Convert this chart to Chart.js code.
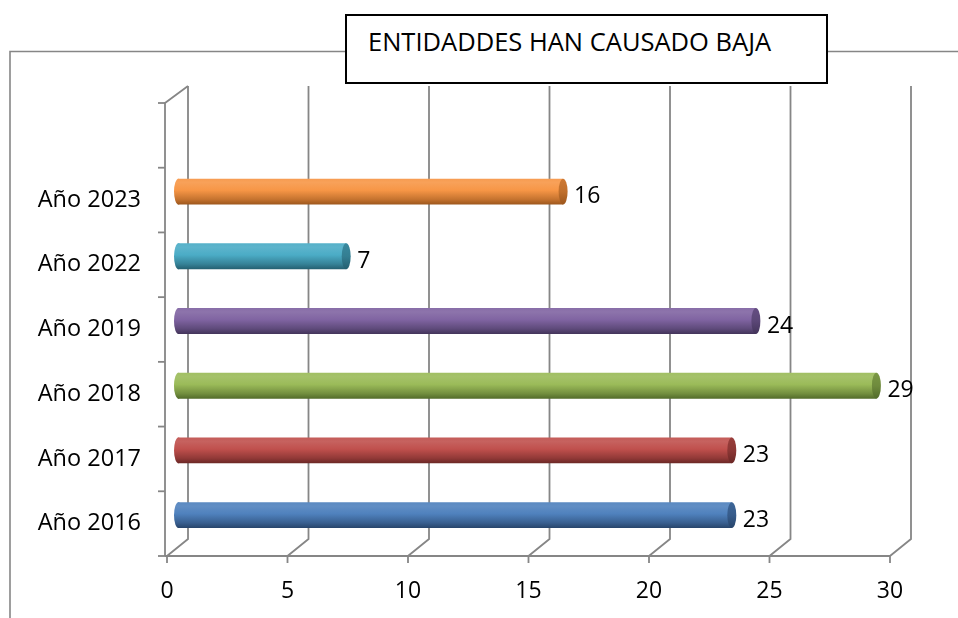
<!DOCTYPE html>
<html>
<head>
<meta charset="utf-8">
<script src="https://cdn.jsdelivr.net/npm/chart.js@4/dist/chart.umd.min.js"></script>
<style>
  html, body { margin: 0; padding: 0; background: #fff; }
  #wrap { position: relative; width: 958px; height: 618px; overflow: hidden; }
  #title {
    position: absolute; left: 345px; top: 14px; width: 483px; height: 70px;
    box-sizing: border-box; border: 2px solid #000; background: #fff;
    font-family: "Open Sans", sans-serif; font-size: 25.5px; color: #000;
    padding: 10px 0 0 21px; line-height: 30px; white-space: nowrap;
  }
</style>
</head>
<body>
<div id="wrap">
  <canvas id="c" width="958" height="618"></canvas>
  <div id="title">ENTIDADDES HAN CAUSADO BAJA</div>
</div>
<script>
// ---- data ----
const categories = ['Año 2016', 'Año 2017', 'Año 2018', 'Año 2019', 'Año 2022', 'Año 2023'];
const values = [23, 23, 29, 24, 7, 16];
const xTicks = [0, 5, 10, 15, 20, 25, 30];
const baseColors = ['#4F81BD', '#C0504D', '#9BBB59', '#8064A2', '#4BACC6', '#F79646'];
const darkColors = ['#27446a', '#6a2725', '#526b2a', '#43345a', '#245f70', '#9c561c'];

// ---- helpers ----
function hexToRgb(h) { const n = parseInt(h.slice(1), 16); return [(n >> 16) & 255, (n >> 8) & 255, n & 255]; }
function mix(a, b, t) {
  const A = hexToRgb(a), B = hexToRgb(b);
  return 'rgb(' + A.map((v, i) => Math.round(v + (B[i] - v) * t)).join(',') + ')';
}
const DX = 21, DY = -17;           // depth offset of back wall
const HX = DX / 2, HY = DY / 2;    // bars sit at mid depth
const GRID = '#868686';
const FONT = '"Open Sans", sans-serif';

const labels = [...categories, ''];

function bodyGradient(ctx, i, yc, half) {
  const g = ctx.createLinearGradient(0, yc - half, 0, yc + half);
  const b = baseColors[i], d = darkColors[i];
  g.addColorStop(0, mix(b, '#ffffff', 0.06));
  g.addColorStop(0.15, mix(b, '#ffffff', 0.10));
  g.addColorStop(0.45, b);
  g.addColorStop(0.8, mix(b, d, 0.55));
  g.addColorStop(1, d);
  return g;
}
function capGradient(ctx, i, yc, half) {
  const g = ctx.createLinearGradient(0, yc - half, 0, yc + half);
  const b = baseColors[i], d = darkColors[i];
  g.addColorStop(0, mix(b, d, 0.45));
  g.addColorStop(0.5, mix(b, d, 0.6));
  g.addColorStop(1, d);
  return g;
}

const frame3d = {
  id: 'frame3d',
  beforeDatasetsDraw(chart) {
    const ctx = chart.ctx, a = chart.chartArea;
    const xs = chart.scales.x, ys = chart.scales.y;
    ctx.save();
    // outer chart border (partially visible)
    ctx.strokeStyle = GRID; ctx.lineWidth = 1.6;
    ctx.beginPath();
    ctx.moveTo(10, 620); ctx.lineTo(10, 51.5); ctx.lineTo(960, 51.5);
    ctx.stroke();

    ctx.strokeStyle = GRID; ctx.lineWidth = 1.8;
    const L = a.left - 2;
    // back wall gridlines + floor diagonals + front ticks
    xTicks.forEach(v => {
      const x = xs.getPixelForValue(v);
      ctx.beginPath();
      ctx.moveTo(x + DX, a.top + DY); ctx.lineTo(x + DX, a.bottom + DY);
      ctx.lineTo(x, a.bottom); ctx.lineTo(x, a.bottom + 7);
      ctx.stroke();
    });
    // front x axis
    ctx.beginPath();
    ctx.moveTo(L, a.bottom); ctx.lineTo(xs.getPixelForValue(30), a.bottom);
    ctx.stroke();
    // left axis + top diagonal
    ctx.beginPath();
    ctx.moveTo(L, a.bottom); ctx.lineTo(L, a.top);
    ctx.lineTo(xs.getPixelForValue(0) + DX, a.top + DY);
    ctx.stroke();
    // category tick marks
    const pitch = Math.abs(ys.getPixelForValue(0) - ys.getPixelForValue(1));
    for (let i = 0; i <= labels.length; i++) {
      const y = ys.getPixelForValue(0) + pitch / 2 - i * pitch;
      ctx.beginPath(); ctx.moveTo(L - 7, y); ctx.lineTo(L, y); ctx.stroke();
    }
    ctx.restore();
    // shift bars to mid depth
    ctx.save();
    ctx.translate(HX, HY);
  },
  afterDatasetsDraw(chart) {
    const ctx = chart.ctx;
    const meta = chart.getDatasetMeta(0);
    meta.data.forEach((bar, i) => {
      if (values[i] === undefined || !isFinite(bar.y)) return;
      const half = bar.height / 2, rx = 4.5;
      // left rounded end
      ctx.fillStyle = bodyGradient(ctx, i, bar.y, half);
      ctx.beginPath(); ctx.ellipse(bar.base + 1, bar.y, rx, half, 0, 0, Math.PI * 2); ctx.fill();
      // right end face
      ctx.fillStyle = capGradient(ctx, i, bar.y, half);
      ctx.beginPath(); ctx.ellipse(bar.x, bar.y, rx, half, 0, 0, Math.PI * 2); ctx.fill();
      // value label
      ctx.fillStyle = '#000';
      ctx.font = '23px ' + FONT;
      ctx.textAlign = 'left'; ctx.textBaseline = 'middle';
      ctx.fillText(String(values[i]), bar.x + 11, bar.y + 5);
    });
    ctx.restore();
  }
};

new Chart(document.getElementById('c'), {
  type: 'bar',
  data: {
    labels: labels,
    datasets: [{
      data: values,
      backgroundColor: (c) => {
        const i = c.dataIndex;
        if (c.type !== 'data' || i >= baseColors.length) return '#888';
        const ys = c.chart.scales.y;
        if (!ys) return baseColors[i];
        const yc = ys.getPixelForValue(i);
        if (!isFinite(yc)) return baseColors[i];
        return bodyGradient(c.chart.ctx, i, yc, 13);
      },
      borderWidth: 0,
      barPercentage: 0.4,
      categoryPercentage: 1.0
    }]
  },
  options: {
    indexAxis: 'y',
    responsive: false,
    animation: false,
    devicePixelRatio: 1,
    layout: { padding: { left: 0, top: 103, right: 68, bottom: 0 } },
    plugins: { legend: { display: false }, tooltip: { enabled: false }, title: { display: false } },
    scales: {
      x: {
        type: 'linear', min: 0, max: 30,
        afterFit(s) { s.height = 62; },
        afterBuildTicks(s) { s.ticks = xTicks.map(v => ({ value: v })); },
        grid: { display: false, drawTicks: false },
        border: { display: false },
        ticks: { color: '#000', font: { family: FONT, size: 23 }, padding: 22, maxRotation: 0 }
      },
      y: {
        reverse: true,
        afterFit(s) { s.width = 167; },
        grid: { display: false, drawTicks: false },
        border: { display: false },
        ticks: { color: '#000', font: { family: FONT, size: 23.5 }, padding: 26 }
      }
    }
  },
  plugins: [frame3d]
});
</script>
</body>
</html>
